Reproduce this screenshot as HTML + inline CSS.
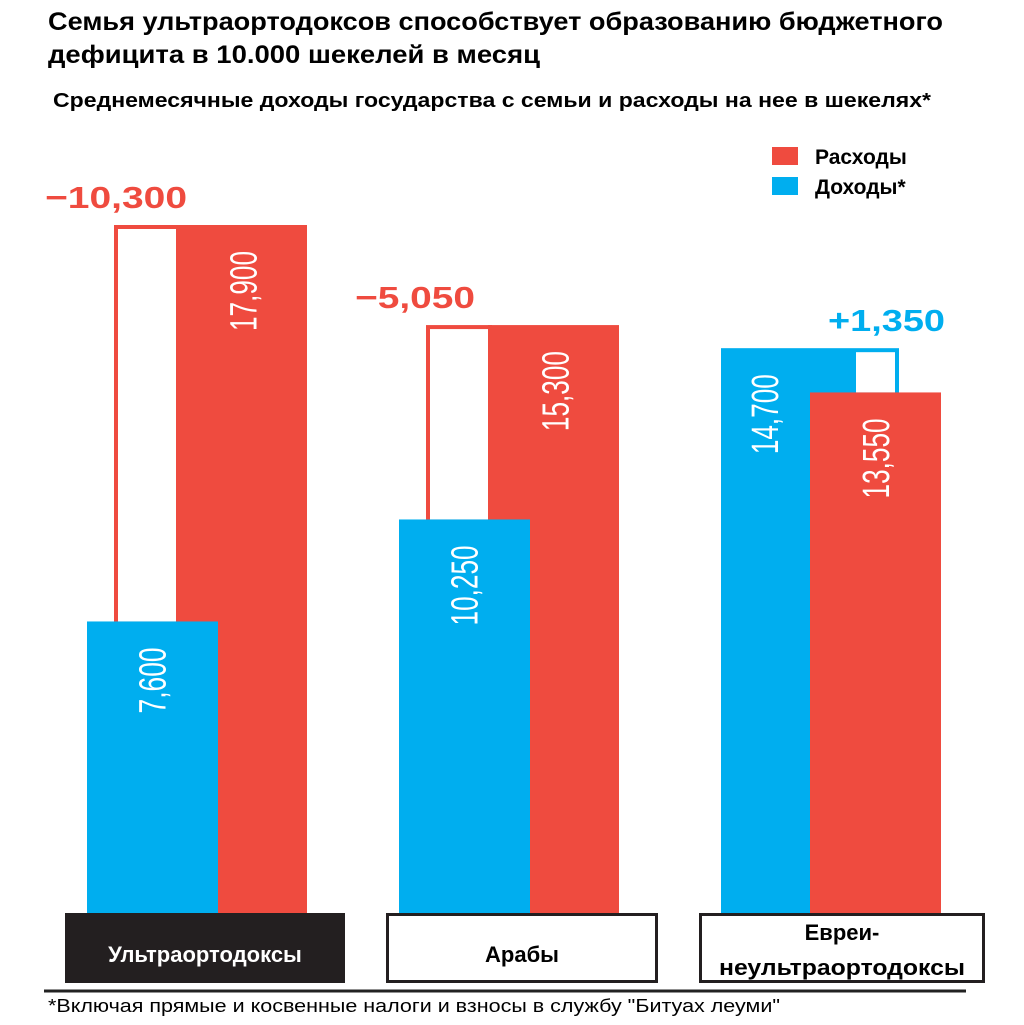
<!DOCTYPE html>
<html><head><meta charset="utf-8"><style>
html,body{margin:0;padding:0;background:#fff;width:1024px;height:1025px;overflow:hidden}
svg{display:block;font-family:"Liberation Sans","DejaVu Sans",sans-serif}
</style></head><body>
<svg id="chart" width="1024" height="1025" viewBox="0 0 1024 1025">
<text x="48" y="30" font-size="25" font-weight="bold" textLength="895" lengthAdjust="spacingAndGlyphs">Семья ультраортодоксов способствует образованию бюджетного</text>
<text x="48" y="63" font-size="25" font-weight="bold" textLength="492" lengthAdjust="spacingAndGlyphs">дефицита в 10.000 шекелей в месяц</text>
<text x="53" y="107" font-size="20" font-weight="bold" textLength="878" lengthAdjust="spacingAndGlyphs">Среднемесячные доходы государства с семьи и расходы на нее в шекелях*</text>
<g>
<rect x="772" y="147" width="26" height="18" fill="#ef4b3f"/>
<text x="815" y="164" font-size="21" font-weight="bold">Расходы</text>
<rect x="772" y="177" width="26" height="18" fill="#00aeef"/>
<text x="815" y="194" font-size="21" font-weight="bold">Доходы*</text>
</g>
<g id="bars"></g>
<line x1="44" y1="991" x2="966" y2="991" stroke="#222" stroke-width="3"/>
<text x="48" y="1012" font-size="18" textLength="732" lengthAdjust="spacingAndGlyphs">*Включая прямые и косвенные налоги и взносы в службу "Битуах леуми"</text>
</svg>
<script>
const categories = ["Ультраортодоксы", "Арабы", "Евреи-неультраортодоксы"];
const incomeValues = [7600, 10250, 14700];
const expenseValues = [17900, 15300, 13550];
const incomeLabels = ["7,600", "10,250", "14,700"];
const expenseLabels = ["17,900", "15,300", "13,550"];
const deltaLabels = ["\u221210,300", "\u22125,050", "+1,350"];

const NS = "http://www.w3.org/2000/svg";
const baseY = 914, scale = 689 / 17900;
const y = v => baseY - v * scale;
const groupX = [87, 399, 721];
const BW = 131, OFF = 89;
const RED = "#ef4b3f", BLUE = "#00aeef";
const g = document.getElementById("bars");
function mk(tag, attrs) { const e = document.createElementNS(NS, tag); for (const k in attrs) e.setAttribute(k, attrs[k]); g.appendChild(e); return e; }

categories.forEach((c, i) => {
  const bx = groupX[i], rx = bx + OFF;
  const inc = incomeValues[i], exp = expenseValues[i];
  const surplus = inc > exp;
  const hi = Math.max(inc, exp), lo = Math.min(inc, exp);
  // gap outline
  let ox1, ox2;
  if (!surplus) { ox1 = bx + 27; ox2 = rx; } else { ox1 = bx + BW; ox2 = bx + BW + 43; }
  const gap = mk("rect", { x: ox1 + 2, y: y(hi) + 2, width: ox2 - ox1, height: y(lo) - y(hi), fill: "#fff", stroke: surplus ? BLUE : RED, "stroke-width": 4 });
  
  
  const redR = mk("rect", { x: rx, y: y(exp), width: BW, height: baseY - y(exp), fill: RED });
  const blueR = mk("rect", { x: bx, y: y(inc), width: BW, height: baseY - y(inc), fill: BLUE });
  if (surplus) g.appendChild(redR);
  
  
  
  
  // value labels
  const lbl = (cx, top, txt, name) => {
    const ty = top + 26;
    const t = mk("text", { x: 0, y: 0, "font-size": 38, fill: "#fff", "text-anchor": "end", textLength: txt.length > 5 ? 80 : 66, lengthAdjust: "spacingAndGlyphs", transform: `translate(${cx + 13},${ty}) rotate(-90)` });
    t.textContent = txt;
    
    
  };
  const blueTextX = surplus ? bx + 44 : bx + BW / 2;
  const redTextX = surplus ? rx + 66 : rx + BW / 2 + 2;
  lbl(blueTextX, y(inc), incomeLabels[i], 'income-value-' + i);
  lbl(redTextX, y(exp), expenseLabels[i], 'expense-value-' + i);
  // delta label
  const d = mk("text", { x: surplus ? bx + 107 : bx - 42 + (i ? 0 : 0), y: y(hi) - 17, "font-size": 31, "font-weight": "bold", fill: surplus ? BLUE : RED, textLength: surplus ? 117 : (i ? 120 : 142), lengthAdjust: "spacingAndGlyphs" });
  if (!surplus) d.setAttribute("x", i === 0 ? 45 : 355);
  d.textContent = deltaLabels[i];
  
  
});

// category boxes
const boxes = [[65, 345], [386, 658], [699, 985]];
boxes.forEach((b, i) => {
  const dark = i === 0;
  const r = mk("rect", { x: b[0] + 1.5, y: 914.5, width: b[1] - b[0] - 3, height: 67, fill: dark ? "#231f20" : "#fff", stroke: "#231f20", "stroke-width": 3 });
  
  
  const cx = (b[0] + b[1]) / 2;
  if (i < 2) {
    const t = mk("text", { x: cx, y: 962, "font-size": 22, "font-weight": "bold", "text-anchor": "middle", fill: dark ? "#fff" : "#000" });
    t.textContent = categories[i];
    
    
  } else {
    const t1 = mk("text", { x: cx, y: 940, "font-size": 22, "font-weight": "bold", "text-anchor": "middle" });
    t1.textContent = "Евреи-";
    
    
    const t2 = mk("text", { x: cx, y: 975, "font-size": 22, "font-weight": "bold", "text-anchor": "middle", textLength: 246, lengthAdjust: "spacingAndGlyphs" });
    t2.textContent = "неультраортодоксы";
    
    
  }
});
</script>
</body></html>
